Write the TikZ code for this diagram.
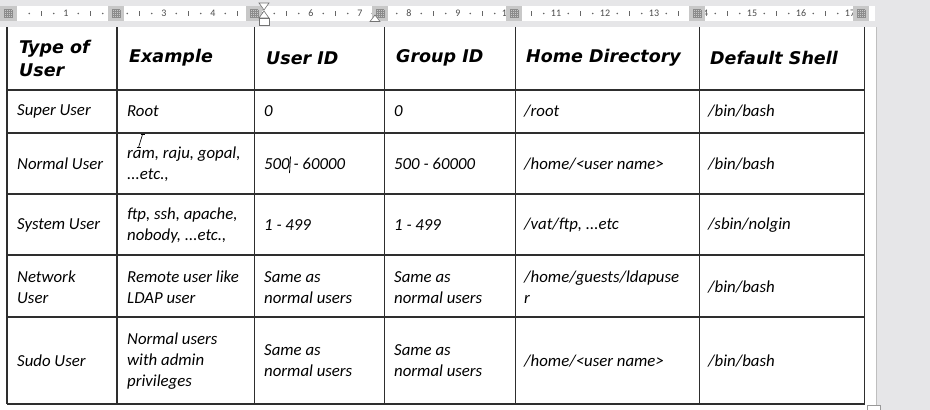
\documentclass[tikz,border=0pt]{standalone}
\usepackage{fontspec}
\usetikzlibrary{positioning}
\newfontfamily\headfont{DejaVu Sans}
\newfontfamily\cellfont{Carlito}
\newfontfamily\rulerfont{Carlito}
\definecolor{wordgrey}{HTML}{E6E6E8}
\definecolor{markgrey}{HTML}{C8C8C8}
\tikzset{
x=1pt, y=-1pt, % one unit is one pixel of the screenshot, y grows downwards
head/.style={anchor=west, inner sep=0pt, align=left, xshift=2pt, font=\headfont\bfseries\itshape\fontsize{17.5}{23}\selectfont}, % header cells
cell/.style={anchor=west, inner sep=0pt, align=left, font=\cellfont\itshape\fontsize{16.8}{21}\selectfont}, % body cells
tableline/.style={line width=1.1pt, black!82}, % borders of the table
rulernum/.style={inner sep=0pt, text=black!70, font=\rulerfont\fontsize{10}{10}\selectfont}, % numbers on the ruler
colmark/.style={fill=markgrey, draw=none}, % column markers on the ruler
indentmark/.style={fill=white, draw=black!55, line width=0.6pt}, % indent markers
}

\begin{document}
\begin{tikzpicture}
    \useasboundingbox (0,0) rectangle (930,410);
    % window, page and ruler
    \fill[wordgrey] (0,0) rectangle (930,410);
    \fill[white] (0,27) rectangle (876,410);
    \draw[black!25, line width=0.8pt] (876.5,27) -- (876.5,410);
    \fill[white] (17,6) rectangle (875,21);
    \foreach \n in {0,...,16} {
        \fill[black!60] (17+49*\n+12.25,13.5) circle (0.8pt);
        \fill[black!60] (17+49*\n+24,11) rectangle (17+49*\n+25,16);
        \fill[black!60] (17+49*\n+36.75,13.5) circle (0.8pt);
    }
    \foreach \n in {1,...,17}
        \node[rulernum] (num\n) at (17+49*\n,13.5) {\n};
    \fill[colmark] (0,6) rectangle (17,21);
    \foreach \m in {8,116,254,380,514,697,861} {
        \fill[colmark] (\m-8,6) rectangle (\m+8,21);
        \foreach \k in {0,2,4,6,8} {
            \draw[black!45, line width=0.5pt] (\m-4+\k,9.5) -- (\m-4+\k,17.5);
            \draw[black!45, line width=0.5pt] (\m-4,9.5+\k) -- (\m+4,9.5+\k);
        }
    }
    \draw[indentmark] (259,3) -- (269,3) -- (264,10) -- cycle;
    \draw[indentmark] (264,11) -- (269,18) -- (259,18) -- cycle;
    \draw[indentmark] (259,18) rectangle (269,25);
    \draw[indentmark] (375,15) -- (380,21.5) -- (370,21.5) -- cycle;

    % table borders
    \foreach \c in {7,117,254.5,384.5,515.5,699.5,864.5}
        \draw[tableline] (\c,27) -- (\c,404);
    \foreach \r in {90,133,194,255,317,404}
        \draw[tableline] (7,\r) -- (864.5,\r);

    % columns and rows
    \coordinate (col1) at (17,0);
    \coordinate (col2) at (127,0);
    \coordinate (col3) at (264,0);
    \coordinate (col4) at (394,0);
    \coordinate (col5) at (524,0);
    \coordinate (col6) at (708,0);
    \coordinate (row0) at (0,58);
    \coordinate (row1) at (0,111.5);
    \coordinate (row2) at (0,164);
    \coordinate (row3) at (0,225.5);
    \coordinate (row4) at (0,287.5);
    \coordinate (row5) at (0,361);

    \node[head] (type) at (col1 |- row0) {Type of\\User};
    \node[head] (example) at (col2 |- row0) {Example};
    \node[head] (uid) at (col3 |- row0) {User ID};
    \node[head] (gid) at (col4 |- row0) {Group ID};
    \node[head] (home) at (col5 |- row0) {Home Directory};
    \node[head] (shell) at (col6 |- row0) {Default Shell};

    \node[cell] (super) at (col1 |- row1) {Super User};
    \node[cell] (superex) at (col2 |- row1) {Root};
    \node[cell] (superuid) at (col3 |- row1) {0};
    \node[cell] (supergid) at (col4 |- row1) {0};
    \node[cell] (superhome) at (col5 |- row1) {/root};
    \node[cell] (supershell) at (col6 |- row1) {/bin/bash};

    \node[cell] (normal) at (col1 |- row2) {Normal User};
    \node[cell] (normalex) at (col2 |- row2) {ram, raju, gopal,\\...etc.,};
    \node[cell] (normaluid) at (col3 |- row2) {500 - 60000};
    \node[cell] (normalgid) at (col4 |- row2) {500 - 60000};
    \node[cell] (normalhome) at (col5 |- row2) {/home/<user name>};
    \node[cell] (normalshell) at (col6 |- row2) {/bin/bash};

    \node[cell] (system) at (col1 |- row3) {System User};
    \node[cell] (systemex) at (col2 |- row3) {ftp, ssh, apache,\\nobody, ...etc.,};
    \node[cell] (systemuid) at (col3 |- row3) {1 - 499};
    \node[cell] (systemgid) at (col4 |- row3) {1 - 499};
    \node[cell] (systemhome) at (col5 |- row3) {/vat/ftp, ...etc};
    \node[cell] (systemshell) at (col6 |- row3) {/sbin/nolgin};

    \node[cell] (network) at (col1 |- row4) {Network\\User};
    \node[cell] (networkex) at (col2 |- row4) {Remote user like\\LDAP user};
    \node[cell] (networkuid) at (col3 |- row4) {Same as\\normal users};
    \node[cell] (networkgid) at (col4 |- row4) {Same as\\normal users};
    \node[cell] (networkhome) at (col5 |- row4) {/home/guests/ldapuse\\r};
    \node[cell] (networkshell) at (col6 |- row4) {/bin/bash};

    \node[cell] (sudo) at (col1 |- row5) {Sudo User};
    \node[cell] (sudoex) at (col2 |- row5) {Normal users\\with admin\\privileges};
    \node[cell] (sudouid) at (col3 |- row5) {Same as\\normal users};
    \node[cell] (sudogid) at (col4 |- row5) {Same as\\normal users};
    \node[cell] (sudohome) at (col5 |- row5) {/home/<user name>};
    \node[cell] (sudoshell) at (col6 |- row5) {/bin/bash};

    % text caret and mouse pointer
    \draw[line width=0.8pt] (290.5,156.5) -- (289.5,173);
    \draw[line width=0.7pt] (142.5,134.5) -- (138.5,147.5);
    \draw[line width=0.6pt] (140.5,134.5) -- (144.5,134.5) (136.5,147.5) -- (140.5,147.5);

    % resize handle of the table
    \draw[black!40, fill=white, line width=0.6pt] (867,405) rectangle (880,411);
\end{tikzpicture}
\end{document}
